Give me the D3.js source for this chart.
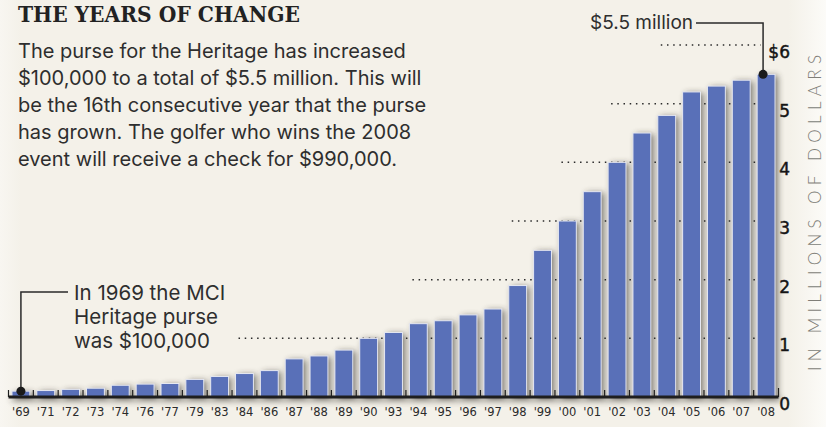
<!DOCTYPE html>
<html>
<head>
<meta charset="utf-8">
<script src="https://cdn.jsdelivr.net/npm/d3@7"></script>
<style>
  html, body { margin: 0; padding: 0; background: #f4f1e9; }
  svg { display: block; }
</style>
</head>
<body>
<div id="chart"></div>
<script>
// purse by year, millions of dollars
const years = ["'69", "'71", "'72", "'73", "'74", "'76", "'77", "'79", "'83", "'84", "'86",
  "'87", "'88", "'89", "'90", "'93", "'94", "'95", "'96", "'97", "'98", "'99",
  "'00", "'01", "'02", "'03", "'04", "'05", "'06", "'07", "'08"];
const purse = [0.1, 0.11, 0.13, 0.15, 0.2, 0.22, 0.23, 0.3, 0.35, 0.4, 0.45,
  0.65, 0.7, 0.8, 1.0, 1.1, 1.25, 1.3, 1.4, 1.5, 1.9, 2.5,
  3.0, 3.5, 4.0, 4.5, 4.8, 5.2, 5.3, 5.4, 5.5];
const yTicks = [0, 1, 2, 3, 4, 5, 6];
// year where each dotted guide line begins
const gridFrom = ["'84", "'94", "'98", "'00", "'02", "'04"];

const title = "THE YEARS OF CHANGE";
const intro = [
  "The purse for the Heritage has increased",
  "$100,000 to a total of $5.5 million. This will",
  "be the 16th consecutive year that the purse",
  "has grown. The golfer who wins the 2008",
  "event will receive a check for $990,000."
];
const firstNote = ["In 1969 the MCI", "Heritage purse", "was $100,000"];
const lastNote = "$5.5 million";
const unitLabel = "IN MILLIONS OF DOLLARS";

const width = 826, height = 427;
const margin = { top: 45, right: 47.5, bottom: 30, left: 8.5 };
const bodyFont = "Inter, Lato, 'Noto Sans', sans-serif";

const svg = d3.select("#chart").append("svg")
  .attr("width", width)
  .attr("height", height);

const defs = svg.append("defs");
const bg = defs.append("linearGradient").attr("id", "bg");
bg.append("stop").attr("offset", "0%").attr("stop-color", "#f8f6f1");
bg.append("stop").attr("offset", "2.5%").attr("stop-color", "#f4f1e9");
bg.append("stop").attr("offset", "95.5%").attr("stop-color", "#f4f1e9");
bg.append("stop").attr("offset", "100%").attr("stop-color", "#fcfbf8");

defs.append("filter").attr("id", "blur")
  .attr("x", "-50%").attr("y", "-50%").attr("width", "200%").attr("height", "200%")
  .append("feGaussianBlur").attr("stdDeviation", 3.2);

svg.append("rect").attr("width", width).attr("height", height).attr("fill", "url(#bg)");

const x = d3.scaleBand()
  .domain(years)
  .range([margin.left, width - margin.right])
  .paddingInner(0.28)
  .paddingOuter(0.14);

const y = d3.scaleLinear()
  .domain([0, 6])
  .range([height - margin.bottom, margin.top]);

const gap = x.step() * x.paddingInner();

// shadow behind bars and baseline
const shadow = svg.append("g")
  .attr("filter", "url(#blur)")
  .attr("opacity", 0.62)
  .attr("transform", "translate(3,1)");
shadow.selectAll("rect")
  .data(purse)
  .enter().append("rect")
  .attr("x", (d, i) => x(years[i]))
  .attr("y", d => y(d))
  .attr("width", x.bandwidth())
  .attr("height", d => y(0) - y(d))
  .attr("fill", "#35302a");
shadow.append("rect")
  .attr("x", margin.left)
  .attr("y", y(0))
  .attr("width", width - margin.right - margin.left)
  .attr("height", 3)
  .attr("fill", "#35302a");

// dotted guides
svg.append("g").selectAll("line")
  .data(yTicks.slice(1))
  .enter().append("line")
  .attr("x1", (d, i) => x(gridFrom[i]) + 3)
  .attr("x2", width - margin.right - 18)
  .attr("y1", d => y(d))
  .attr("y2", d => y(d))
  .attr("stroke", "#2a2a2a")
  .attr("stroke-width", 1.5)
  .attr("stroke-dasharray", "1.5 4.7");

// bars
svg.append("g").selectAll("rect")
  .data(purse)
  .enter().append("rect")
  .attr("x", (d, i) => x(years[i]))
  .attr("y", d => y(d))
  .attr("width", x.bandwidth())
  .attr("height", d => y(0) - y(d))
  .attr("fill", "#5970b8")
  .attr("stroke", "#e6e8f1")
  .attr("stroke-width", 1);

// x axis
const xAxis = svg.append("g")
  .attr("transform", "translate(0," + y(0) + ")")
  .call(d3.axisBottom(x).tickSize(0).tickPadding(11));
xAxis.select(".domain").remove();
xAxis.selectAll("text")
  .style("font-family", "'DejaVu Sans', sans-serif")
  .style("font-size", "11.5px")
  .attr("fill", "#2b2b2b");

const edges = [margin.left].concat(years.slice(1).map(d => x(d) - gap / 2), [width - margin.right]);
svg.append("g").selectAll("line")
  .data(edges)
  .enter().append("line")
  .attr("x1", d => d).attr("x2", d => d)
  .attr("y1", y(0)).attr("y2", (d, i) => y(0) - (i === edges.length - 1 ? 9 : 7))
  .attr("stroke", "#1e1e1e")
  .attr("stroke-width", 1.2);
svg.append("line")
  .attr("x1", margin.left).attr("x2", width - margin.right)
  .attr("y1", y(0)).attr("y2", y(0))
  .attr("stroke", "#1e1e1e")
  .attr("stroke-width", 3.2);

// y labels on the right
svg.append("g").selectAll("text")
  .data(yTicks)
  .enter().append("text")
  .attr("x", width - 36)
  .attr("y", d => y(d) + 13)
  .attr("text-anchor", "end")
  .style("font-family", "'DejaVu Sans', sans-serif")
  .style("font-size", "17px")
  .attr("fill", "#151515")
  .attr("stroke", "#151515")
  .attr("stroke-width", 0.45)
  .text(d => d === 6 ? "$" + d : d);

svg.append("text")
  .attr("transform", "translate(821," + 213 + ") rotate(-90)")
  .attr("text-anchor", "middle")
  .attr("textLength", 316)
  .attr("lengthAdjust", "spacing")
  .style("font-family", "Lato, 'Noto Sans', sans-serif")
  .style("font-size", "17px")
  .style("font-weight", 300)
  .attr("fill", "#807e78")
  .text(unitLabel);

// title and intro
svg.append("text")
  .attr("x", 18).attr("y", 22)
  .attr("textLength", 282)
  .attr("lengthAdjust", "spacingAndGlyphs")
  .style("font-family", "'DejaVu Serif', serif")
  .style("font-size", "23px")
  .style("font-weight", "bold")
  .attr("fill", "#222")
  .text(title);

svg.append("g").selectAll("text")
  .data(intro)
  .enter().append("text")
  .attr("x", 18)
  .attr("y", (d, i) => 58 + i * 27)
  .style("font-family", bodyFont)
  .style("font-size", "20px")
  .attr("fill", "#2e2e2e")
  .text(d => d);

// note on first bar
const fx = x(years[0]) + x.bandwidth() / 2;
const fy = y(purse[0]);
svg.append("path")
  .attr("d", "M" + fx + "," + fy + "V292H68")
  .attr("fill", "none")
  .attr("stroke", "#2a2a2a")
  .attr("stroke-width", 1.5);
svg.append("circle").attr("cx", fx).attr("cy", fy).attr("r", 4.5).attr("fill", "#1a1a1a");
svg.append("g").selectAll("text")
  .data(firstNote)
  .enter().append("text")
  .attr("x", 74)
  .attr("y", (d, i) => 300 + i * 24)
  .style("font-family", bodyFont)
  .style("font-size", "20.5px")
  .attr("fill", "#2e2e2e")
  .text(d => d);

// note on last bar
const lx = x(years[years.length - 1]) + x.bandwidth() / 2 - 3;
const ly = y(purse[purse.length - 1]);
svg.append("path")
  .attr("d", "M696,23H" + lx + "V" + ly)
  .attr("fill", "none")
  .attr("stroke", "#2a2a2a")
  .attr("stroke-width", 1.5);
svg.append("circle").attr("cx", lx).attr("cy", ly).attr("r", 4.5).attr("fill", "#1a1a1a");
svg.append("text")
  .attr("x", 693).attr("y", 29)
  .attr("text-anchor", "end")
  .style("font-family", bodyFont)
  .style("font-size", "19px")
  .attr("fill", "#2e2e2e")
  .text(lastNote);
</script>
</body>
</html>
